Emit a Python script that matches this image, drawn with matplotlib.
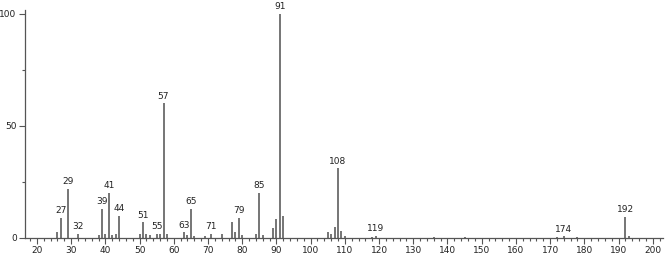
import numpy as np
import matplotlib
matplotlib.use("Agg")
import matplotlib.pyplot as plt
from matplotlib.ticker import MultipleLocator

# m/z and relative intensity
mz = [26, 27, 29, 32, 38, 39, 40, 41, 42, 43, 44, 50, 51, 52, 53, 55, 56, 57, 58,
      63, 64, 65, 66, 69, 71, 74, 77, 78, 79, 80, 84, 85, 86, 89, 90, 91, 92,
      105, 106, 107, 108, 109, 110, 118, 119, 136, 145, 172, 174, 178, 192, 193]
intensity = [2.5, 9, 22, 2, 1.5, 13, 2, 20, 1.5, 2, 10, 2, 7, 2, 1.5, 2, 2, 60, 2,
             2.5, 1.5, 13, 1, 1, 2, 2, 7, 2.5, 9, 1.5, 2, 20, 1.5, 4.5, 8.5, 100, 10,
             2.5, 2, 5, 31, 3, 1, 0.5, 1, 0.3, 0.3, 0.5, 0.7, 0.5, 9.5, 1]
labelled = [27, 29, 32, 39, 41, 44, 51, 55, 57, 63, 65, 71, 79, 85, 91, 108, 119, 174, 192]

fig = plt.figure(figsize=(6.66, 2.54), dpi=100)
ax = fig.add_axes([0.0375, 0.063, 0.958, 0.897])

ax.vlines(mz, 0, intensity, color="#6a6a6a", linewidth=1.3)
for m, h in zip(mz, intensity):
    if m in labelled:
        ax.text(m, h + 1.2, str(m), ha="center", va="bottom",
                fontsize=6.5, color="#222222")

ax.set_xlim(16.5, 203)
ax.set_ylim(0, 101.6)
ax.spines["top"].set_visible(False)
ax.spines["right"].set_visible(False)
for s in ["left", "bottom"]:
    ax.spines[s].set_color("#555555")
    ax.spines[s].set_linewidth(0.9)

ax.set_xticks(np.arange(20, 201, 10))
ax.xaxis.set_minor_locator(MultipleLocator(2))
ax.set_yticks([0, 50, 100])
ax.yaxis.set_minor_locator(MultipleLocator(25))
ax.tick_params(axis="both", which="major", length=4, width=0.8, color="#555555",
               labelsize=6.5, labelcolor="#222222", pad=2)
ax.tick_params(axis="both", which="minor", length=2.5, width=0.8, color="#555555")

fig.savefig("out.png", dpi=100)
